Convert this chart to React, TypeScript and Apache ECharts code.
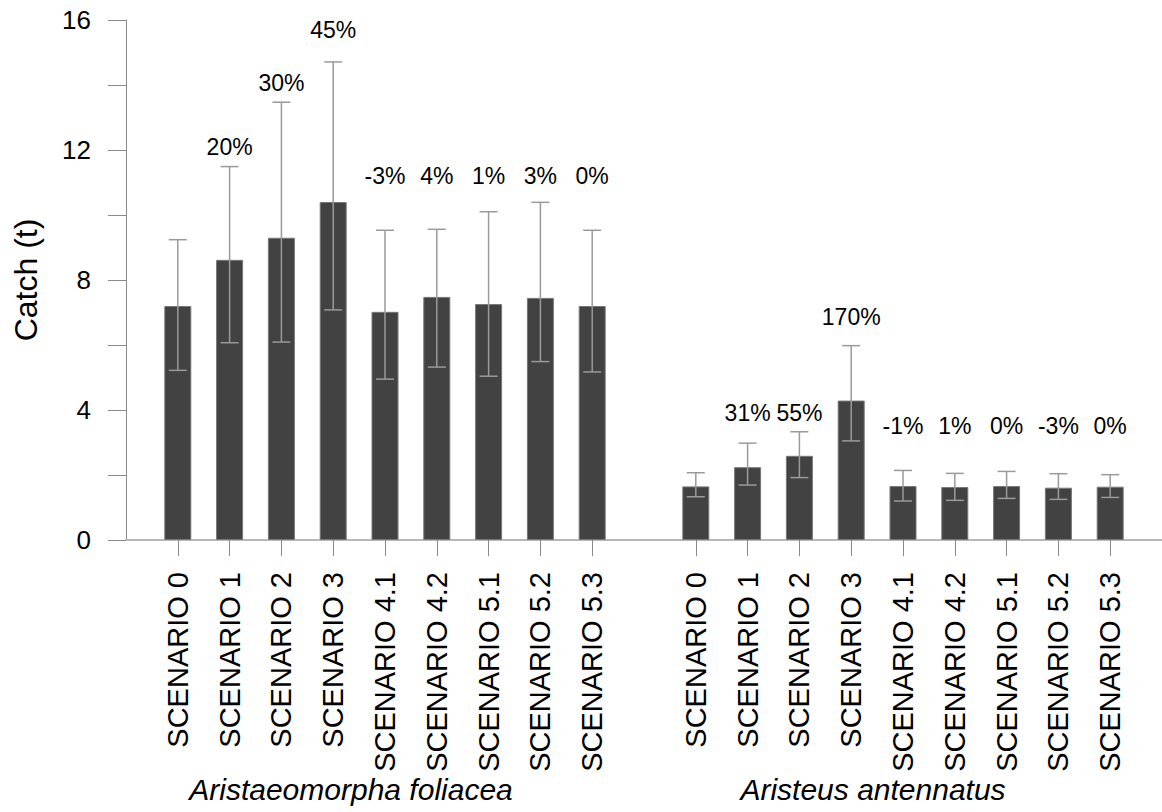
import React, { useEffect, useRef } from "react";
import * as echarts from "echarts";

const scenarios = [
  "SCENARIO 0",
  "SCENARIO 1",
  "SCENARIO 2",
  "SCENARIO 3",
  "SCENARIO 4.1",
  "SCENARIO 4.2",
  "SCENARIO 5.1",
  "SCENARIO 5.2",
  "SCENARIO 5.3",
];

const species = ["Aristaeomorpha foliacea", "Aristeus antennatus"];

const foliaceaCatch = [7.2, 8.62, 9.3, 10.4, 7.02, 7.48, 7.26, 7.45, 7.2];
const foliaceaLow = [5.22, 6.07, 6.09, 7.08, 4.95, 5.32, 5.04, 5.49, 5.17];
const foliaceaHigh = [9.24, 11.49, 13.47, 14.71, 9.53, 9.56, 10.1, 10.39, 9.53];
const foliaceaChange = ["", "20%", "30%", "45%", "-3%", "4%", "1%", "3%", "0%"];
const foliaceaLabelY = [0, 12.09, 14.05, 15.69, 11.2, 11.2, 11.2, 11.2, 11.2];

const antennatusCatch = [1.65, 2.24, 2.59, 4.29, 1.66, 1.63, 1.66, 1.61, 1.64];
const antennatusLow = [1.33, 1.69, 1.92, 3.05, 1.2, 1.22, 1.28, 1.25, 1.31];
const antennatusHigh = [2.07, 2.98, 3.33, 5.98, 2.14, 2.05, 2.11, 2.04, 2.01];
const antennatusChange = ["", "31%", "55%", "170%", "-1%", "1%", "0%", "-3%", "0%"];
const antennatusLabelY = [0, 3.92, 3.92, 6.85, 3.5, 3.5, 3.5, 3.5, 3.5];

const yTicks = [0, 4, 8, 12, 16];

const FONT = "'Liberation Sans', Arial, Helvetica, sans-serif";

export default function App() {
  const ref = useRef<HTMLDivElement>(null);

  useEffect(() => {
    if (!ref.current) return;
    const chart = echarts.init(ref.current, null, { renderer: "svg" });

    // categories: empty slot, group 1, empty slot, group 2, empty slot
    const categories = ["", ...scenarios, "", ...scenarios, ""];
    const offset1 = 1;
    const offset2 = scenarios.length + 2;

    const barData: any[] = categories.map(() => "-");
    const errData: number[][] = [];
    const lblData: number[][] = [];
    const lblText: string[] = [];

    scenarios.forEach((_, k) => {
      barData[offset1 + k] = foliaceaCatch[k];
      barData[offset2 + k] = antennatusCatch[k];
      errData.push([offset1 + k, foliaceaLow[k], foliaceaHigh[k]]);
      errData.push([offset2 + k, antennatusLow[k], antennatusHigh[k]]);
      if (foliaceaChange[k]) {
        lblData.push([offset1 + k, foliaceaLabelY[k]]);
        lblText.push(foliaceaChange[k]);
      }
      if (antennatusChange[k]) {
        lblData.push([offset2 + k, antennatusLabelY[k]]);
        lblText.push(antennatusChange[k]);
      }
    });

    const errColor = "#9a9a9a";

    chart.setOption({
      animation: false,
      backgroundColor: "#ffffff",
      grid: { left: 126, top: 20, right: -4, bottom: 272, containLabel: false },
      xAxis: {
        type: "category",
        data: categories,
        boundaryGap: false,
        axisLine: { show: true, lineStyle: { color: "#b8b8b8", width: 2 } },
        axisTick: {
          show: true,
          length: 16,
          interval: (_i: number, v: string) => v !== "",
          lineStyle: { color: "#8a8a8a", width: 1 },
        },
        axisLabel: {
          show: true,
          rotate: 90,
          interval: 0,
          margin: 32,
          color: "#000",
          fontSize: 29,
          fontFamily: FONT,
        },
        splitLine: { show: false },
      },
      yAxis: {
        type: "value",
        min: 0,
        max: 16,
        interval: 2,
        name: "Catch (t)",
        nameLocation: "middle",
        nameGap: 84,
        nameRotate: 90,
        nameTextStyle: { color: "#000", fontSize: 32, fontFamily: FONT },
        axisLine: { show: true, lineStyle: { color: "#8a8a8a", width: 1 } },
        axisTick: { show: true, length: 18, lineStyle: { color: "#8a8a8a", width: 1 } },
        axisLabel: {
          margin: 35,
          color: "#000",
          fontSize: 26,
          fontFamily: FONT,
          formatter: (v: number) => (yTicks.includes(v) ? String(v) : ""),
        },
        splitLine: { show: false },
      },
      graphic: [
        {
          type: "text",
          x: 351,
          y: 789,
          style: {
            text: species[0],
            fontSize: 30,
            fontStyle: "italic",
            fontFamily: FONT,
            fill: "#000",
            align: "center",
            verticalAlign: "middle",
          },
        },
        {
          type: "text",
          x: 873,
          y: 789,
          style: {
            text: species[1],
            fontSize: 30,
            fontStyle: "italic",
            fontFamily: FONT,
            fill: "#000",
            align: "center",
            verticalAlign: "middle",
          },
        },
      ],
      series: [
        {
          type: "bar",
          data: barData,
          barWidth: 27,
          itemStyle: { color: "#424242", borderColor: "#777777", borderWidth: 1 },
          z: 2,
        },
        {
          type: "custom",
          data: errData,
          z: 3,
          renderItem: (_params: any, api: any) => {
            const x = api.value(0);
            const lo = api.coord([x, api.value(1)]);
            const hi = api.coord([x, api.value(2)]);
            const half = 9;
            const style = { stroke: errColor, lineWidth: 1.5 };
            return {
              type: "group",
              children: [
                { type: "line", shape: { x1: hi[0], y1: hi[1], x2: lo[0], y2: lo[1] }, style },
                { type: "line", shape: { x1: hi[0] - half, y1: hi[1], x2: hi[0] + half, y2: hi[1] }, style },
                { type: "line", shape: { x1: lo[0] - half, y1: lo[1], x2: lo[0] + half, y2: lo[1] }, style },
              ],
            };
          },
        },
        {
          type: "custom",
          data: lblData,
          z: 4,
          renderItem: (params: any, api: any) => {
            const p = api.coord([api.value(0), api.value(1)]);
            return {
              type: "text",
              x: p[0],
              y: p[1],
              style: {
                text: lblText[params.dataIndex],
                fontSize: 23,
                fontFamily: FONT,
                fill: "#000",
                align: "center",
                verticalAlign: "middle",
              },
            };
          },
        },
      ],
    });

    return () => chart.dispose();
  }, []);

  return (
    <div
      ref={ref}
      style={{ position: "absolute", left: 0, top: 0, width: 1162, height: 812 }}
    />
  );
}
